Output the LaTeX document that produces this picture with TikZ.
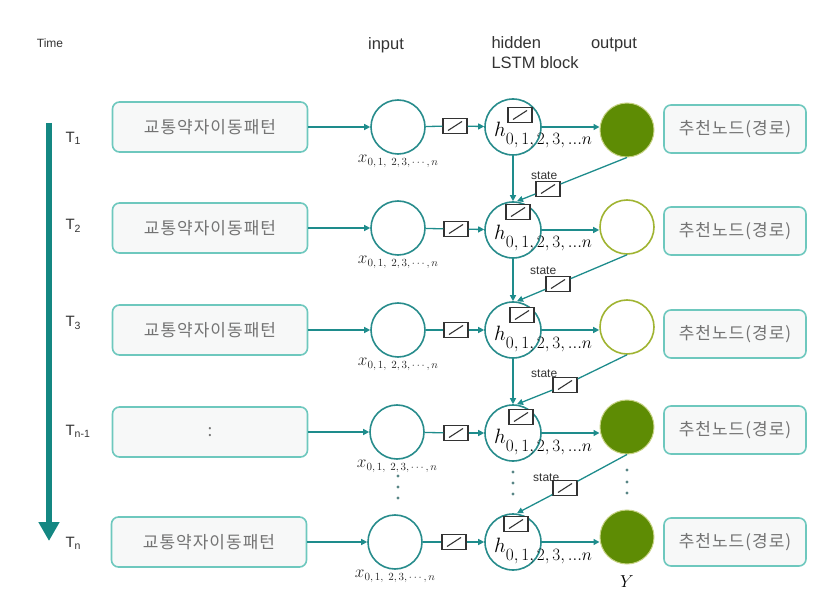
\documentclass[tikz,border=0pt]{standalone}
\usepackage[no-math]{fontspec}
\usepackage{amssymb}
\setsansfont{Liberation Sans}
\newfontfamily\kr[LetterSpace=6]{Noto Sans CJK KR}
\usepackage{tikz}
\usepackage{color}
\usetikzlibrary{positioning,arrows.meta}
\definecolor{tealline}{RGB}{30,140,140}
\definecolor{circedge}{RGB}{40,140,140}
\definecolor{boxedge}{RGB}{110,200,190}
\definecolor{boxfill}{RGB}{247,248,248}
\definecolor{outfill}{RGB}{94,140,4}
\definecolor{outedge}{RGB}{160,180,50}
\definecolor{timeteal}{RGB}{20,135,130}
\definecolor{textgray}{RGB}{115,115,115}
\newcommand{\hsub}{{\fontsize{22}{22}\selectfont$h$}\raisebox{-8pt}{\fontsize{16}{16}\selectfont$0,1,2,3,...n$}}
\newcommand{\xsub}{{\fontsize{18}{18}\selectfont$x$}\raisebox{-3pt}{\fontsize{11}{11}\selectfont$0,1,\;2,3,\cdots,n$}}

\begin{document}
\begin{tikzpicture}[x=1pt,y=-1pt]
            \tikzstyle{pattern box}=[draw=boxedge,fill=boxfill,line width=1.6pt,rounded corners=7pt,minimum width=195pt,minimum height=50pt,font=\kr\fontsize{17}{17}\selectfont,text=textgray]
            \tikzstyle{route box}=[pattern box,minimum width=142pt,minimum height=48pt]
            \tikzstyle{in node}=[draw=circedge,circle,line width=1.6pt,minimum size=54pt,inner sep=0pt]
            \tikzstyle{hid node}=[in node,minimum size=56pt]
            \tikzstyle{out full}=[circle,fill=outfill,draw=outedge!60,line width=1pt,minimum size=54pt,inner sep=0pt]
            \tikzstyle{out empty}=[out full,fill=white,draw=outedge,line width=1.6pt]
            \tikzstyle{gatebox}=[draw=black!80,fill=white,line width=1.2pt,minimum width=24pt,minimum height=15pt,inner sep=0pt,path picture={\draw[black!80,line width=1.1pt] ([shift={(5pt,3pt)}]path picture bounding box.south west) -- ([shift={(-5pt,-3pt)}]path picture bounding box.north east);}]
            \tikzstyle{linkline}=[draw=tealline,line width=1.3pt]
            \tikzstyle{arrowline}=[linkline,-{Triangle[length=6pt,width=6pt]}]
            \tikzstyle{timeline}=[draw=timeteal,line width=5.5pt,-{Triangle[length=19pt,width=20pt]}]
            \tikzstyle{colhead}=[font=\sffamily\fontsize{16.5}{20}\selectfont,text=black!80]
            \tikzstyle{tlab}=[anchor=west,font=\sffamily\fontsize{15}{15}\selectfont,text=black!80]
            \tikzstyle{xlab}=[inner sep=0pt,text=black!85]
            \tikzstyle{hlab}=[anchor=base west,inner sep=0pt]
            \tikzstyle{statelab}=[anchor=west,font=\sffamily\fontsize{12}{12}\selectfont,text=black!80,inner sep=0pt]
            \tikzstyle{dotmark}=[circle,fill=circedge!45!gray,inner sep=0pt,minimum size=3.2pt]

            \useasboundingbox (0,0) rectangle (823,607);

            \node[font=\sffamily\fontsize{12}{12}\selectfont,text=black!80] (time) at (50,43) {Time};
            \node[colhead] (inhead) at (386,45) {input};
            \node[colhead,align=left,anchor=west] (hidhead) at (488,53) {hidden\\LSTM block};
            \node[colhead] (outhead) at (614,45) {output};

            \coordinate (tstart) at (49,123);
            \coordinate (tend) at (49,541);
            \draw[timeline] (tstart) -- (tend);

            \node[tlab] (t1) at (62,138) {T\textsubscript{1}};
            \node[tlab] (t2) at (62,226) {T\textsubscript{2}};
            \node[tlab] (t3) at (62,323) {T\textsubscript{3}};
            \node[tlab] (t4) at (62,431) {T\textsubscript{n-1}};
            \node[tlab] (t5) at (62,543) {T\textsubscript{n}};

            \node[pattern box] (pat1) at (210,127) {교통약자이동패턴};
            \node[in node] (in1) at (398,127) {};
            \node[gatebox] (g1) at (455,126) {};
            \node[hid node] (hid1) at (513,127) {};
            \node[out full] (out1) at (627,130) {};
            \node[route box] (rt1) at (735,129) {추천노드(경로)};

            \node[pattern box] (pat2) at (210,228) {교통약자이동패턴};
            \node[in node] (in2) at (398,228) {};
            \node[gatebox] (g2) at (456,229) {};
            \node[hid node] (hid2) at (513,230) {};
            \node[out empty] (out2) at (627,227) {};
            \node[route box] (rt2) at (735,231) {추천노드(경로)};

            \node[pattern box] (pat3) at (210,330) {교통약자이동패턴};
            \node[in node] (in3) at (398,330) {};
            \node[gatebox] (g3) at (456,330) {};
            \node[hid node] (hid3) at (513,330) {};
            \node[out empty] (out3) at (627,327) {};
            \node[route box] (rt3) at (735,334) {추천노드(경로)};

            \node[pattern box] (pat4) at (210,432) {:};
            \node[in node] (in4) at (397,432) {};
            \node[gatebox] (g4) at (456,433) {};
            \node[hid node] (hid4) at (513,433) {};
            \node[out full] (out4) at (627,427) {};
            \node[route box] (rt4) at (735,430) {추천노드(경로)};

            \node[pattern box] (pat5) at (209,542) {교통약자이동패턴};
            \node[in node] (in5) at (395,542) {};
            \node[gatebox] (g5) at (454,542) {};
            \node[hid node] (hid5) at (513,542) {};
            \node[out full] (out5) at (627,537) {};
            \node[route box] (rt5) at (735,542) {추천노드(경로)};

            \node[xlab] (x1) [below=0pt of in1] {\xsub};
            \node[xlab] (x2) [below=0pt of in2] {\xsub};
            \node[xlab] (x3) [below=0pt of in3] {\xsub};
            \node[xlab] (x4) [below=0pt of in4] {\xsub};
            \node[xlab] (x5) [below=0pt of in5] {\xsub};

            \draw[arrowline] (pat1) -- (in1);
            \draw[linkline] (in1) -- (g1);
            \draw[arrowline] (g1) -- (hid1);
            \draw[arrowline] (hid1.east) -- (hid1.east -| out1.west);
            \draw[arrowline] (pat2) -- (in2);
            \draw[linkline] (in2) -- (g2);
            \draw[arrowline] (g2) -- (hid2);
            \draw[arrowline] (hid2.east) -- (hid2.east -| out2.west);
            \draw[arrowline] (pat3) -- (in3);
            \draw[linkline] (in3) -- (g3);
            \draw[arrowline] (g3) -- (hid3);
            \draw[arrowline] (hid3.east) -- (hid3.east -| out3.west);
            \draw[arrowline] (pat4) -- (in4);
            \draw[linkline] (in4) -- (g4);
            \draw[arrowline] (g4) -- (hid4);
            \draw[arrowline] (hid4.east) -- (hid4.east -| out4.west);
            \draw[arrowline] (pat5) -- (in5);
            \draw[linkline] (in5) -- (g5);
            \draw[arrowline] (g5) -- (hid5);
            \draw[arrowline] (hid5.east) -- (hid5.east -| out5.west);

            \draw[arrowline] (hid1) -- (hid2);
            \draw[arrowline] (hid2) -- (hid3);
            \draw[arrowline] (hid3) -- (hid4);

            \node[gatebox] (d1) at (548,189) {};
            \node[gatebox] (d2) at (558,284) {};
            \node[gatebox] (d3) at (565,385) {};
            \node[gatebox] (d4) at (565,488) {};
            \draw[linkline] (out1.south) -- (d1);
            \draw[arrowline] (d1) -- ([xshift=4pt]hid2.north);
            \draw[linkline] (out2.south) -- (d2);
            \draw[arrowline] (d2) -- ([xshift=4pt]hid3.north);
            \draw[linkline] (out3.south) -- (d3);
            \draw[arrowline] (d3) -- ([xshift=4pt]hid4.north);
            \draw[linkline] (out4.south) -- (d4);
            \draw[arrowline] (d4) -- ([xshift=4pt]hid5.north);

            \node[statelab] (s1) at (531,176) {state};
            \node[statelab] (s2) at (530,271) {state};
            \node[statelab] (s3) at (531,374) {state};
            \node[statelab] (s4) at (533,478) {state};

            \node[gatebox] (top1) at (520,115) {};
            \node[gatebox] (top2) at (518,212) {};
            \node[gatebox] (top3) at (522,315) {};
            \node[gatebox] (top4) at (521,417) {};
            \node[gatebox] (top5) at (516,524) {};

            \node[hlab] (h1) at ([shift={(-19pt,-10pt)}]hid1.center) {\hsub};
            \node[hlab] (h2) at ([shift={(-19pt,-10pt)}]hid2.center) {\hsub};
            \node[hlab] (h3) at ([shift={(-19pt,-10pt)}]hid3.center) {\hsub};
            \node[hlab] (h4) at ([shift={(-19pt,-10pt)}]hid4.center) {\hsub};
            \node[hlab] (h5) at ([shift={(-19pt,-10pt)}]hid5.center) {\hsub};

            \node[dotmark] (vin1) at (398,476) {};
            \node[dotmark] (vin2) at (398,487) {};
            \node[dotmark] (vin3) at (398,498) {};
            \node[dotmark] (vhid1) at (513,472) {};
            \node[dotmark] (vhid2) at (513,483) {};
            \node[dotmark] (vhid3) at (513,494) {};
            \node[dotmark] (vout1) at (627,470) {};
            \node[dotmark] (vout2) at (627,482) {};
            \node[dotmark] (vout3) at (627,493) {};

            \node[font=\fontsize{18}{18}\selectfont] (ylab) at (627,582) {$Y$};
        \end{tikzpicture}
\end{document}
